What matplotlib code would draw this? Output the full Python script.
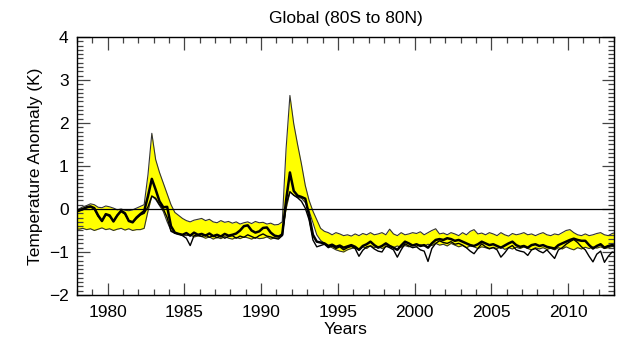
import numpy as np
import matplotlib
matplotlib.use("Agg")
import matplotlib.pyplot as plt
from matplotlib.ticker import MultipleLocator

## Quarterly samples, 1977.875 .. 2013.125 (rows = one year, 4 values each)
years = 1977.875 + 0.25 * np.arange(142)

## Upper edge of the yellow band
hi_start = [-0.02]
hi_rows = [
    [0.00, 0.05, 0.08, 0.12],      # 1978
    [0.10, 0.04, 0.03, 0.07],      # 1979
    [0.05, 0.02, -0.02, 0.00],     # 1980
    [-0.03, -0.04, -0.02, 0.02],   # 1981
    [0.06, 0.10, 0.80, 1.76],      # 1982
    [1.15, 0.85, 0.60, 0.35],      # 1983
    [0.10, -0.08, -0.15, -0.22],   # 1984
    [-0.27, -0.30, -0.26, -0.24],  # 1985
    [-0.22, -0.27, -0.24, -0.30],  # 1986
    [-0.32, -0.27, -0.31, -0.29],  # 1987
    [-0.33, -0.30, -0.35, -0.32],  # 1988
    [-0.30, -0.34, -0.29, -0.32],  # 1989
    [-0.31, -0.35, -0.33, -0.37],  # 1990
    [-0.36, -0.30, 1.40, 2.64],    # 1991
    [1.98, 1.50, 1.05, 0.55],      # 1992
    [0.20, -0.05, -0.25, -0.45],   # 1993
    [-0.52, -0.55, -0.60, -0.55],  # 1994
    [-0.58, -0.62, -0.60, -0.63],  # 1995
    [-0.58, -0.62, -0.57, -0.60],  # 1996
    [-0.55, -0.60, -0.58, -0.55],  # 1997
    [-0.60, -0.47, -0.58, -0.62],  # 1998
    [-0.55, -0.60, -0.58, -0.55],  # 1999
    [-0.57, -0.53, -0.60, -0.55],  # 2000
    [-0.50, -0.46, -0.58, -0.56],  # 2001
    [-0.60, -0.55, -0.58, -0.62],  # 2002
    [-0.55, -0.60, -0.52, -0.48],  # 2003
    [-0.58, -0.56, -0.60, -0.55],  # 2004
    [-0.58, -0.62, -0.55, -0.60],  # 2005
    [-0.63, -0.57, -0.60, -0.58],  # 2006
    [-0.55, -0.60, -0.58, -0.62],  # 2007
    [-0.58, -0.55, -0.60, -0.62],  # 2008
    [-0.58, -0.60, -0.55, -0.50],  # 2009
    [-0.48, -0.55, -0.60, -0.62],  # 2010
    [-0.58, -0.62, -0.60, -0.57],  # 2011
    [-0.55, -0.60, -0.62, -0.57],  # 2012
]
hi_end = [-0.55]

## Lower edge of the yellow band
lo_start = [-0.45]
lo_rows = [
    [-0.47, -0.45, -0.48, -0.46],  # 1978
    [-0.50, -0.47, -0.44, -0.48],  # 1979
    [-0.46, -0.50, -0.47, -0.45],  # 1980
    [-0.49, -0.46, -0.50, -0.48],  # 1981
    [-0.48, -0.45, -0.05, 0.30],   # 1982
    [0.22, 0.08, -0.06, -0.30],    # 1983
    [-0.50, -0.57, -0.58, -0.60],  # 1984
    [-0.62, -0.60, -0.65, -0.63],  # 1985
    [-0.64, -0.68, -0.65, -0.70],  # 1986
    [-0.66, -0.69, -0.64, -0.68],  # 1987
    [-0.70, -0.66, -0.69, -0.65],  # 1988
    [-0.67, -0.70, -0.66, -0.69],  # 1989
    [-0.68, -0.65, -0.70, -0.67],  # 1990
    [-0.68, -0.55, 0.00, 0.40],    # 1991
    [0.32, 0.27, 0.25, 0.15],      # 1992
    [-0.05, -0.32, -0.60, -0.73],  # 1993
    [-0.80, -0.85, -0.90, -0.95],  # 1994
    [-0.98, -1.00, -0.95, -0.92],  # 1995
    [-0.90, -0.95, -0.88, -0.92],  # 1996
    [-0.85, -0.90, -0.87, -0.92],  # 1997
    [-0.88, -0.85, -0.90, -0.86],  # 1998
    [-0.89, -0.85, -0.88, -0.84],  # 1999
    [-0.87, -0.83, -0.86, -0.82],  # 2000
    [-0.85, -0.80, -0.84, -0.82],  # 2001
    [-0.86, -0.80, -0.84, -0.88],  # 2002
    [-0.85, -0.90, -0.86, -0.88],  # 2003
    [-0.92, -0.88, -0.90, -0.93],  # 2004
    [-0.89, -0.92, -0.88, -0.94],  # 2005
    [-0.90, -0.93, -0.89, -0.92],  # 2006
    [-0.88, -0.92, -0.95, -0.90],  # 2007
    [-0.93, -0.90, -0.94, -0.91],  # 2008
    [-0.95, -0.90, -0.93, -0.88],  # 2009
    [-0.92, -0.95, -0.90, -0.93],  # 2010
    [-0.89, -0.92, -0.88, -0.91],  # 2011
    [-0.88, -0.92, -0.90, -0.87],  # 2012
]
lo_end = [-0.90]

## Thick black curve
mean_start = [-0.05]
mean_rows = [
    [-0.03, 0.00, 0.04, 0.06],     # 1978
    [0.02, -0.15, -0.28, -0.12],   # 1979
    [-0.15, -0.29, -0.15, -0.04],  # 1980
    [-0.10, -0.28, -0.31, -0.20],  # 1981
    [-0.12, -0.05, 0.30, 0.70],    # 1982
    [0.45, 0.18, 0.04, 0.05],      # 1983
    [-0.40, -0.55, -0.58, -0.60],  # 1984
    [-0.56, -0.62, -0.55, -0.60],  # 1985
    [-0.58, -0.62, -0.57, -0.63],  # 1986
    [-0.60, -0.64, -0.58, -0.62],  # 1987
    [-0.60, -0.57, -0.50, -0.40],  # 1988
    [-0.38, -0.50, -0.55, -0.52],  # 1989
    [-0.44, -0.43, -0.55, -0.62],  # 1990
    [-0.64, -0.60, 0.20, 0.85],    # 1991
    [0.42, 0.31, 0.28, 0.24],      # 1992
    [-0.15, -0.60, -0.76, -0.78],  # 1993
    [-0.80, -0.86, -0.83, -0.88],  # 1994
    [-0.85, -0.90, -0.87, -0.84],  # 1995
    [-0.88, -0.95, -0.86, -0.82],  # 1996
    [-0.76, -0.84, -0.90, -0.86],  # 1997
    [-0.80, -0.86, -0.90, -0.95],  # 1998
    [-0.85, -0.76, -0.80, -0.85],  # 1999
    [-0.82, -0.86, -0.84, -0.90],  # 2000
    [-0.80, -0.72, -0.70, -0.72],  # 2001
    [-0.68, -0.70, -0.74, -0.72],  # 2002
    [-0.76, -0.80, -0.84, -0.86],  # 2003
    [-0.82, -0.76, -0.80, -0.84],  # 2004
    [-0.82, -0.86, -0.90, -0.85],  # 2005
    [-0.80, -0.76, -0.84, -0.88],  # 2006
    [-0.86, -0.90, -0.84, -0.82],  # 2007
    [-0.86, -0.84, -0.88, -0.90],  # 2008
    [-0.92, -0.84, -0.80, -0.76],  # 2009
    [-0.72, -0.69, -0.72, -0.74],  # 2010
    [-0.74, -0.84, -0.92, -0.86],  # 2011
    [-0.82, -0.90, -0.86, -0.84],  # 2012
]
mean_end = [-0.86]

## Thin black curve
obs_start = [-0.08]
obs_rows = [
    [-0.05, -0.02, 0.03, 0.05],    # 1978
    [0.00, -0.17, -0.27, -0.13],   # 1979
    [-0.17, -0.28, -0.14, -0.06],  # 1980
    [-0.12, -0.27, -0.30, -0.22],  # 1981
    [-0.14, -0.10, 0.05, 0.30],    # 1982
    [0.25, 0.10, 0.00, -0.20],     # 1983
    [-0.52, -0.56, -0.58, -0.62],  # 1984
    [-0.68, -0.85, -0.62, -0.60],  # 1985
    [-0.64, -0.60, -0.66, -0.62],  # 1986
    [-0.67, -0.62, -0.68, -0.64],  # 1987
    [-0.62, -0.68, -0.63, -0.66],  # 1988
    [-0.60, -0.64, -0.68, -0.62],  # 1989
    [-0.58, -0.63, -0.65, -0.68],  # 1990
    [-0.70, -0.62, 0.10, 0.40],    # 1991
    [0.32, 0.26, 0.18, 0.02],      # 1992
    [-0.25, -0.72, -0.88, -0.85],  # 1993
    [-0.82, -0.90, -0.86, -0.92],  # 1994
    [-0.88, -0.95, -0.90, -0.87],  # 1995
    [-0.92, -1.10, -0.96, -0.88],  # 1996
    [-0.86, -0.93, -0.98, -1.00],  # 1997
    [-0.86, -0.90, -0.95, -1.12],  # 1998
    [-0.95, -0.81, -0.86, -0.90],  # 1999
    [-0.88, -0.95, -0.98, -1.22],  # 2000
    [-0.92, -0.80, -0.74, -0.78],  # 2001
    [-0.80, -0.76, -0.82, -0.80],  # 2002
    [-0.84, -0.90, -0.98, -1.04],  # 2003
    [-0.92, -0.81, -0.88, -0.92],  # 2004
    [-0.90, -0.95, -1.12, -1.02],  # 2005
    [-0.90, -0.85, -0.95, -0.98],  # 2006
    [-1.00, -1.08, -0.95, -0.92],  # 2007
    [-0.98, -1.02, -0.95, -1.05],  # 2008
    [-1.15, -0.95, -0.90, -0.82],  # 2009
    [-0.76, -0.71, -0.78, -0.88],  # 2010
    [-0.95, -1.10, -1.23, -1.05],  # 2011
    [-0.98, -1.24, -1.10, -1.00],  # 2012
]
obs_end = [-1.02]

x_ticks = [1980, 1985, 1990, 1995, 2000, 2005, 2010]
y_ticks = [-2, -1, 0, 1, 2, 3, 4]


def flat(start, rows, end):
    return np.array(start + [v for r in rows for v in r] + end)


hi = flat(hi_start, hi_rows, hi_end)
lo = flat(lo_start, lo_rows, lo_end)
mean = flat(mean_start, mean_rows, mean_end)
obs = flat(obs_start, obs_rows, obs_end)

plt.rcParams['font.family'] = ['Liberation Sans', 'DejaVu Sans']

fig = plt.figure(figsize=(6.35, 3.4), dpi=100)
ax = fig.add_axes([0.1213, 0.1324, 0.8457, 0.7588])

ax.fill_between(years, lo, hi, color='#ffff00', lw=0, zorder=1)
ax.plot(years, hi, color='#333333', lw=0.8, zorder=2)
ax.plot(years, lo, color='#333333', lw=0.8, zorder=2)
ax.axhline(0, color='black', lw=0.9, zorder=3)
ax.plot(years, obs, color='black', lw=1.0, zorder=4)
ax.plot(years, mean, color='black', lw=1.8, zorder=5)

ax.set_xlim(1978, 2013)
ax.set_ylim(-2, 4)
ax.set_xticks(x_ticks)
ax.set_yticks(y_ticks)
ax.xaxis.set_minor_locator(MultipleLocator(1))
ax.yaxis.set_minor_locator(MultipleLocator(0.1))
ax.tick_params(which='both', direction='in', top=True, right=True,
               labelsize=12.5, color='#444444', width=0.9)
ax.tick_params(which='major', length=9)
ax.tick_params(axis='x', which='major', pad=7)
ax.tick_params(axis='y', which='major', pad=6)
ax.tick_params(which='minor', length=4)
for s in ax.spines.values():
    s.set_linewidth(1.0)

ax.set_title("Global (80S to 80N)", fontsize=12.5, pad=10)
ax.set_xlabel("Years", fontsize=12.5, labelpad=2)
ax.set_ylabel("Temperature Anomaly (K)", fontsize=12.5, labelpad=4)

fig.savefig("out.png", dpi=100)
